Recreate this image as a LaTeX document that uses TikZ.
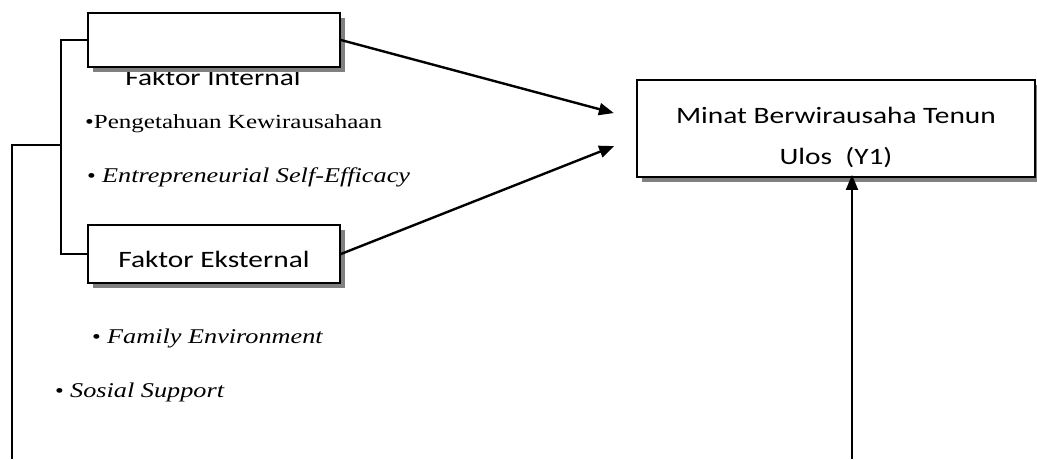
\documentclass[tikz,border=0pt]{standalone}
\usepackage{fontspec}
\setmainfont[FakeStretch=1.25]{Liberation Serif}
\newfontfamily\boxfont[FakeStretch=1.25]{Carlito}
\usetikzlibrary{arrows.meta, shadows}

\begin{document}
\begin{tikzpicture}[
  x=1pt, y=-1pt,
  box/.style={draw, line width=1.8pt, fill=white, inner sep=0pt, align=center, font=\boxfont\fontsize{23.5}{41}\selectfont,
    drop shadow={shadow xshift=5pt, shadow yshift=-5pt, fill=black!50, opacity=1}},
  boxtext/.style={anchor=base, inner sep=0pt, font=\boxfont\fontsize{23.5}{41}\selectfont},
  item/.style={anchor=base west, inner sep=0pt, font=\fontsize{20}{24}\selectfont},
  arr/.style={-{Triangle[length=15pt, width=12pt]}, line width=2.4pt},
  brk/.style={line width=1.5pt}
]
\useasboundingbox (0,0) rectangle (1037,459);

\node[boxtext] (inttext) at (213,85) {Faktor Internal};
\node[box, minimum width=252pt, minimum height=54pt] (intbox) at (214,40) {};
\node[box, minimum width=252pt, minimum height=58pt] (extbox) at (214,254) {\rule{0pt}{27pt}Faktor Eksternal};
\node[box, minimum width=398pt, minimum height=97pt] (ybox) at (836,128.5) {\rule{0pt}{34pt}Minat Berwirausaha Tenun\\Ulos\ \ (Y1)};

\node[item] (pengetahuan) at (85,128) {\textbullet Pengetahuan Kewirausahaan};
\node[item] (efficacy) at (87,182) {\textbullet\ \fontsize{21}{24}\selectfont\textit{Entrepreneurial Self-Efficacy}};
\node[item] (family) at (92,343) {\textbullet\ \fontsize{21}{24}\selectfont\textit{Family Environment}};
\node[item] (sosial) at (55,397) {\textbullet\ \fontsize{21}{24}\selectfont\textit{Sosial Support}};

\coordinate (brk) at (61,145);
\coordinate (lbot) at (12,459);
\coordinate (rbot) at (852,459);

\draw[brk] (intbox.west) -| (brk) |- (extbox.west);
\draw[line width=2pt] (brk) -| (lbot);
\draw[arr, shorten >=23pt] (intbox.east) -- ([yshift=9.5pt]ybox.west);
\draw[arr, shorten >=23.6pt] (extbox.east) -- ([yshift=-8.9pt]ybox.west);
\draw[arr, line width=2pt, shorten >=-3pt] (rbot) -- (rbot |- ybox.south);
\end{tikzpicture}
\end{document}
